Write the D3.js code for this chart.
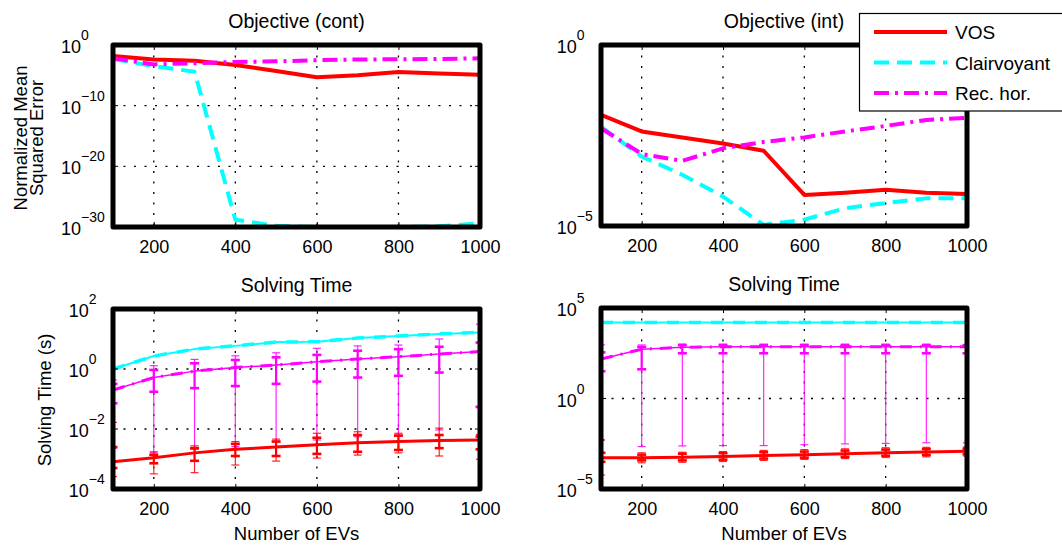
<!DOCTYPE html>
<html><head><meta charset="utf-8">
<script src="https://cdn.jsdelivr.net/npm/d3@7"></script>
<style>
body{margin:0;background:#fff}
text{font-family:"Liberation Sans",Arial,Helvetica,sans-serif;fill:#000}
</style>
</head><body>
<svg id="c" width="1062" height="549"></svg>
<script>
// ---------------- data ----------------
const evCounts = [100,200,300,400,500,600,700,800,900,1000];
const xTickValues = [200,400,600,800,1000];
const seriesNames = ["VOS","Clairvoyant","Rec. hor."];

// Objective (cont) – normalized mean squared error
const contVOS   = [1.6e-2,4.0e-3,2.5e-3,5.0e-4,5.0e-5,5.0e-6,1.0e-5,3.5e-5,2.0e-5,1.3e-5];
const contClair = [5.0e-3,3.2e-4,4.0e-5,1.6e-29,1.6e-30,1.0e-30,1.0e-30,1.0e-30,1.3e-30,4.0e-30];
const contRec   = [6.3e-3,6.3e-4,1.0e-3,1.6e-3,2.0e-3,3.2e-3,4.0e-3,4.5e-3,5.0e-3,6.3e-3];
const contTicks = [1e-30,1e-20,1e-10,1];

// Objective (int)
const intVOS   = [1.17e-2,4.1e-3,2.8e-3,1.9e-3,1.2e-3,7.2e-5,8.3e-5,1.0e-4,8.3e-5,7.6e-5];
const intClair = [5.5e-3,8.3e-4,2.6e-4,6.5e-5,1.07e-5,1.5e-5,3.1e-5,4.3e-5,5.8e-5,5.8e-5];
const intRec   = [5.0e-3,9.8e-4,6.3e-4,1.4e-3,2.1e-3,2.8e-3,4.1e-3,5.8e-3,8.5e-3,9.8e-3];
const intTicks = [1e-5,1];

// Solving time (cont) [s]
const tContClair      = [1.0,2.7,4.6,5.9,7.9,8.1,10.7,12.6,14.8,16.6];
const tContRec        = [0.20,0.52,0.85,1.12,1.35,1.74,2.14,2.57,3.16,3.8];
const tContRecMax     = [0.43,1.29,2.09,2.75,3.47,4.9,5.9,6.3,10,31];
const tContRecHi      = [0.32,0.93,1.55,2.0,2.45,2.95,4.07,4.57,5.5,7.6];
const tContRecLo      = [0.072,0.174,0.23,0.27,0.32,0.38,0.52,0.59,0.76,0.055];
const tContRecMin     = [0.0023,0.0016,0.0021,0.0026,0.004,0.0043,0.0055,0.0063,0.0093,0.051];
const tContVOS        = [8.1e-4,1.1e-3,1.6e-3,2.1e-3,2.5e-3,3.0e-3,3.5e-3,3.8e-3,4.1e-3,4.3e-3];
const tContVOSMax     = [1.66e-2,1.74e-3,2.75e-3,3.8e-3,4.6e-3,7.2e-3,8.1e-3,7.2e-3,1.07e-2,6.6e-3];
const tContVOSHi      = [2.5e-3,1.38e-3,2.3e-3,3.2e-3,3.8e-3,5.1e-3,6.3e-3,6.0e-3,6.3e-3,5.6e-3];
const tContVOSLo      = [5.0e-4,7.2e-4,8.7e-4,1.26e-3,1.26e-3,1.48e-3,1.74e-3,2.0e-3,2.3e-3,2.1e-3];
const tContVOSMin     = [2.6e-4,3.2e-4,3.5e-4,6.3e-4,8.5e-4,1.07e-3,1.35e-3,1.6e-3,1.26e-3,9.8e-4];
const tContTicks = [1e-4,1e-2,1,1e2];

// Solving time (int) [s]
const tIntClair   = [1.6e4,1.6e4,1.6e4,1.6e4,1.6e4,1.6e4,1.6e4,1.6e4,1.6e4,1.6e4];
const tIntRec     = [151,525,676,724,724,724,724,724,724,724];
const tIntRecMax  = [912,912,1020,1000,1000,1000,1000,1000,1000,891];
const tIntRecHi   = [355,708,891,891,891,891,891,891,891,891];
const tIntRecLo   = [32,41,316,316,316,316,316,316,316,316];
const tIntRecMin  = [5.1e-3,2.2e-3,2.4e-3,2.5e-3,2.5e-3,2.8e-3,3.1e-3,3.3e-3,3.6e-3,3.6e-3];
const tIntVOS     = [5.4e-4,5.4e-4,5.6e-4,6.2e-4,7.1e-4,7.9e-4,8.9e-4,1.02e-3,1.12e-3,1.2e-3];
const tIntVOSMax  = [5.1e-3,1.0e-3,1.07e-3,1.17e-3,1.35e-3,1.5e-3,1.66e-3,1.9e-3,2.0e-3,2.1e-3];
const tIntVOSHi   = [1.0e-3,7.9e-4,8.9e-4,9.5e-4,1.07e-3,1.17e-3,1.32e-3,1.5e-3,1.58e-3,1.7e-3];
const tIntVOSLo   = [3.2e-4,3.8e-4,3.8e-4,4.2e-4,4.8e-4,5.4e-4,6.0e-4,6.9e-4,7.6e-4,8.3e-4];
const tIntVOSMin  = [5.9e-5,2.8e-4,3.0e-4,3.3e-4,3.8e-4,4.3e-4,4.8e-4,5.5e-4,6.0e-4,6.6e-4];
const tIntTicks = [1e-5,1,1e5];

// ---------------- drawing ----------------
const RED="#ff0000", CYAN="#00ffff", MAG="#ff00ff";
const svg = d3.select("#c");
const FONT = '"Liberation Sans",Arial,Helvetica,sans-serif';
let clipId = 0;

function zip(a){ return evCounts.map((e,i)=>({x:e,y:a[i]})); }

function drawPanel(cfg){
  const x = d3.scaleLinear().domain([100,1000]).range([cfg.left,cfg.right]);
  const y = d3.scaleLog().domain(cfg.domain).range([cfg.bottom,cfg.top]);
  const g = svg.append("g");
  const id = "clip"+(clipId++);
  svg.append("defs").append("clipPath").attr("id",id).append("rect")
    .attr("x",cfg.left).attr("y",cfg.top).attr("width",cfg.right-cfg.left).attr("height",cfg.bottom-cfg.top);

  // grid
  const grid = g.append("g").attr("stroke","#000").attr("stroke-width",1.3).attr("stroke-dasharray","2,8.5");
  xTickValues.filter(v=>v<1000).forEach(v=>{
    grid.append("line").attr("x1",x(v)).attr("x2",x(v)).attr("y1",cfg.top).attr("y2",cfg.bottom);
  });
  cfg.grid.forEach(v=>{
    grid.append("line").attr("x1",cfg.left).attr("x2",cfg.right).attr("y1",y(v)).attr("y2",y(v));
  });

  const plot = g.append("g").attr("clip-path",`url(#${id})`);
  const line = d3.line().x(d=>x(d.x)).y(d=>y(d.y));

  // error bars
  (cfg.bars||[]).forEach(b=>{
    const eb = plot.append("g");
    evCounts.forEach((e,i)=>{
      const cx = x(e);
      eb.append("line").attr("x1",cx).attr("x2",cx).attr("y1",y(b.max[i])).attr("y2",y(b.min[i]))
        .attr("stroke",b.color).attr("stroke-width",1.2).attr("opacity",0.85);
      [b.max[i],b.min[i]].forEach(v=>{
        eb.append("line").attr("x1",cx-4).attr("x2",cx+4).attr("y1",y(v)).attr("y2",y(v))
          .attr("stroke",b.color).attr("stroke-width",1.2).attr("opacity",0.85);
      });
      eb.append("line").attr("x1",cx).attr("x2",cx).attr("y1",y(b.hi[i])).attr("y2",y(b.lo[i]))
        .attr("stroke",b.color).attr("stroke-width",2.2);
      [b.hi[i],b.lo[i]].forEach(v=>{
        eb.append("line").attr("x1",cx-4.5).attr("x2",cx+4.5).attr("y1",y(v)).attr("y2",y(v))
          .attr("stroke",b.color).attr("stroke-width",2.6);
      });
    });
  });

  // lines
  cfg.lines.forEach(l=>{
    plot.append("path").datum(zip(l.data)).attr("d",line).attr("fill","none")
      .attr("stroke",l.color).attr("stroke-width",l.width)
      .attr("stroke-dasharray",l.dash||null).attr("stroke-linejoin","round");
  });

  // x axis labels
  const ax = d3.axisBottom(x).tickValues(xTickValues).tickFormat(d3.format("d"))
    .tickSizeInner(-5).tickSizeOuter(0).tickPadding(13);
  const axg = g.append("g").attr("transform",`translate(0,${cfg.bottom})`).call(ax);
  axg.select(".domain").remove();
  axg.selectAll("text").attr("font-size",18).attr("font-family",FONT).attr("fill","#000");
  axg.selectAll("line").attr("stroke","#000");
  const axt = d3.axisTop(x).tickValues(xTickValues).tickSizeInner(-5).tickSizeOuter(0).tickFormat("");
  const axtg = g.append("g").attr("transform",`translate(0,${cfg.top})`).call(axt);
  axtg.select(".domain").remove();

  // y tick labels (10^n)
  const labs = g.append("g");
  const nodes = [];
  cfg.ticks.forEach(v=>{
    const e = Math.round(Math.log10(v));
    const t = labs.append("text").attr("y",y(v)+8).attr("font-size",18);
    t.append("tspan").text("10");
    t.append("tspan").attr("dy",-13).attr("font-size",14).text(e<0?"\u2212"+(-e):String(e));
    nodes.push(t);
    g.append("line").attr("x1",cfg.left).attr("x2",cfg.left+5).attr("y1",y(v)).attr("y2",y(v)).attr("stroke","#000");
    g.append("line").attr("x1",cfg.right).attr("x2",cfg.right-5).attr("y1",y(v)).attr("y2",y(v)).attr("stroke","#000");
  });
  const maxW = d3.max(nodes,n=>n.node().getBBox().width);
  nodes.forEach(n=>n.attr("x",cfg.left-8-maxW));

  // frame
  g.append("rect").attr("x",cfg.left).attr("y",cfg.top).attr("width",cfg.right-cfg.left).attr("height",cfg.bottom-cfg.top)
    .attr("fill","none").attr("stroke","#000").attr("stroke-width",5).attr("stroke-linejoin","round");

  // title
  g.append("text").attr("x",(cfg.left+cfg.right)/2).attr("y",cfg.top-17).attr("text-anchor","middle")
    .attr("font-size",19.5).text(cfg.title);
  if(cfg.xlabel){
    g.append("text").attr("x",(cfg.left+cfg.right)/2).attr("y",cfg.bottom+51).attr("text-anchor","middle")
      .attr("font-size",18.5).text(cfg.xlabel);
  }
}

const topLines = (a,b,c)=>[
  {data:a,color:RED,width:4},
  {data:b,color:CYAN,width:4,dash:"15,8"},
  {data:c,color:MAG,width:4,dash:"15,6,3,6"}
];

drawPanel({left:113,right:480,top:45,bottom:227,domain:[1e-30,1],ticks:contTicks,grid:[1e-20,1e-10],
  title:"Objective (cont)",lines:topLines(contVOS,contClair,contRec)});
drawPanel({left:601,right:967,top:45,bottom:226,domain:[1e-5,1],ticks:intTicks,grid:[],
  title:"Objective (int)",lines:topLines(intVOS,intClair,intRec)});

const bottomLines = (a,b,c)=>[
  {data:b,color:CYAN,width:2},
  {data:b,color:CYAN,width:3.5,dash:"12,10"},
  {data:c,color:MAG,width:1.5},
  {data:c,color:MAG,width:3,dash:"12,8,2,8"},
  {data:a,color:RED,width:3}
];

drawPanel({left:113,right:480,top:309,bottom:489,domain:[1e-4,1e2],ticks:tContTicks,grid:[1e-2,1],
  title:"Solving Time",xlabel:"Number of EVs",
  bars:[
    {color:MAG,max:tContRecMax,hi:tContRecHi,lo:tContRecLo,min:tContRecMin},
    {color:RED,max:tContVOSMax,hi:tContVOSHi,lo:tContVOSLo,min:tContVOSMin}
  ],
  lines:bottomLines(tContVOS,tContClair,tContRec)});
drawPanel({left:601,right:967,top:308,bottom:489,domain:[1e-5,1e5],ticks:tIntTicks,grid:[1],
  title:"Solving Time",xlabel:"Number of EVs",
  bars:[
    {color:MAG,max:tIntRecMax,hi:tIntRecHi,lo:tIntRecLo,min:tIntRecMin},
    {color:RED,max:tIntVOSMax,hi:tIntVOSHi,lo:tIntVOSLo,min:tIntVOSMin}
  ],
  lines:bottomLines(tIntVOS,tIntClair,tIntRec)});

// y labels
svg.append("text").attr("transform","translate(26.5,138) rotate(-90)").attr("text-anchor","middle")
  .attr("font-size",18.5).text("Normalized Mean");
svg.append("text").attr("transform","translate(43,138) rotate(-90)").attr("text-anchor","middle")
  .attr("font-size",18.5).text("Squared Error");
svg.append("text").attr("transform","translate(51,400) rotate(-90)").attr("text-anchor","middle")
  .attr("font-size",18.5).text("Solving Time (s)");

// legend
const lg = svg.append("g");
lg.append("rect").attr("x",859.5).attr("y",13.5).attr("width",215).attr("height",97.5)
  .attr("fill","#fff").attr("stroke","#000").attr("stroke-width",1.2);
const legendStyles = [
  {color:RED,dash:null},
  {color:CYAN,dash:"15,8"},
  {color:MAG,dash:"15,6,3,6"}
];
seriesNames.forEach((n,i)=>{
  const yy = 32 + i*30.5;
  lg.append("line").attr("x1",874).attr("x2",947).attr("y1",yy).attr("y2",yy)
    .attr("stroke",legendStyles[i].color).attr("stroke-width",4).attr("stroke-dasharray",legendStyles[i].dash);
  lg.append("text").attr("x",955).attr("y",yy+7).attr("font-size",19).text(n);
});
</script>
</body></html>
